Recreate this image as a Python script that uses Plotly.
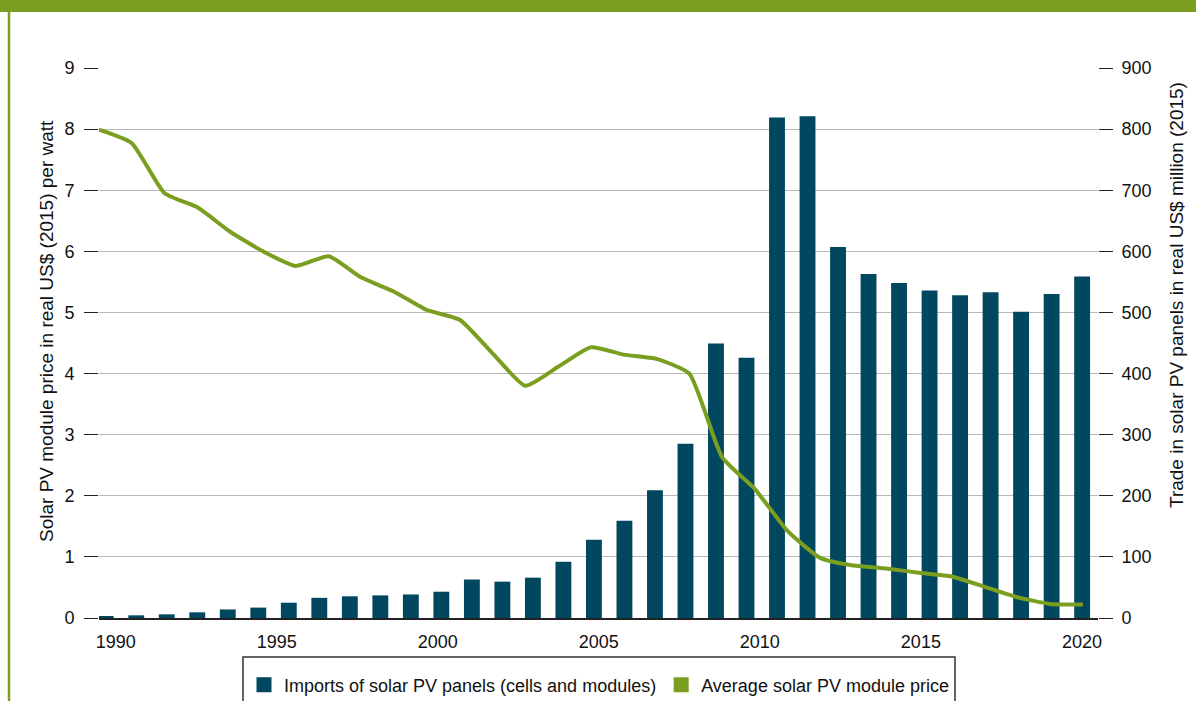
import plotly.graph_objects as go

# Average solar PV module price, real US$ (2015) per watt, 1990-2020
price_years = list(range(1990, 2021))
price_per_watt = [7.99, 7.77, 6.95, 6.72, 6.32, 6.00, 5.76, 5.92, 5.57, 5.34,
                  5.04, 4.88, 4.33, 3.80, 4.11, 4.43, 4.31, 4.24, 4.00, 2.63,
                  2.11, 1.42, 0.98, 0.86, 0.81, 0.74, 0.68, 0.51, 0.34, 0.23,
                  0.22]

# Imports of solar PV panels, real US$ million (2015): 33 bars as drawn
import_periods = list(range(33))
imports_musd = [2, 4.4, 6, 9.3, 14, 17, 25, 33, 35.5, 37,
                38.5, 43, 63, 59.5, 66, 92, 128, 159, 209, 285,
                449, 426, 819, 821, 607, 563, 548, 536, 528, 533,
                501, 530, 559]

# x-axis labels
label_years = [1990, 1995, 2000, 2005, 2010, 2015, 2020]

bar_color = '#00475f'
green = '#7a9e1f'
font_family = 'Liberation Sans, Arial, sans-serif'
tick_font = dict(family=font_family, size=18, color='#111')

fig = go.Figure()

fig.add_trace(go.Bar(
    x=import_periods, y=imports_musd,
    xaxis='x2', yaxis='y2',
    width=0.52,
    marker=dict(color=bar_color, line=dict(width=0)),
    showlegend=False,
    name='Imports of solar PV panels (cells and modules)',
))

fig.add_trace(go.Scatter(
    x=price_years, y=price_per_watt,
    xaxis='x3', yaxis='y',
    mode='lines',
    line=dict(color=green, width=4, shape='spline', smoothing=0.5),
    showlegend=False,
    name='Average solar PV module price',
))

# legend entries with square swatches, as in the reference
for name, col in [('Imports of solar PV panels (cells and modules)', bar_color),
                  ('Average solar PV module price', green)]:
    fig.add_trace(go.Scatter(
        x=[None], y=[None], mode='markers',
        marker=dict(symbol='square', size=15, color=col),
        name=name, showlegend=True,
    ))

fig.update_layout(
    width=1196, height=701,
    autosize=False,
    margin=dict(l=99, r=98, t=68, b=83, autoexpand=False),
    paper_bgcolor='white',
    plot_bgcolor='white',
    font=dict(family=font_family, size=18, color='#111'),
    barmode='overlay',
    xaxis=dict(
        range=[1989.48, 2020.5],
        tickvals=label_years,
        ticktext=[str(v) for v in label_years],
        tickfont=tick_font,
        ticks='', showgrid=False, zeroline=False,
        showline=True, linecolor='#222', linewidth=1.5,
        ticklabelstandoff=7,
    ),
    xaxis2=dict(
        overlaying='x', anchor='y2',
        range=[-0.22, 32.52],
        visible=False,
    ),
    xaxis3=dict(
        overlaying='x', anchor='y',
        range=[1990, 2020.46],
        visible=False,
    ),
    yaxis=dict(
        range=[0, 9], dtick=1,
        showgrid=True, gridcolor='#b8b8b8', gridwidth=1,
        zeroline=False, showline=False,
        ticks='outside', ticklen=14, tickcolor='#222', tickwidth=1.2,
        tickfont=tick_font,
        ticklabelstandoff=6,
    ),
    yaxis2=dict(
        overlaying='y', side='right',
        range=[0, 900], dtick=100,
        showgrid=False, zeroline=False, showline=False,
        ticks='outside', ticklen=14, tickcolor='#222', tickwidth=1.2,
        tickfont=tick_font,
        ticklabelstandoff=5,
    ),
    showlegend=True,
    legend=dict(
        orientation='h',
        x=0.5005, xanchor='center',
        y=-0.122, yanchor='middle',
        font=dict(family=font_family, size=18, color='#111'),
        bgcolor='rgba(0,0,0,0)',
        borderwidth=0,
        traceorder='normal',
        itemwidth=30,
    ),
)

# frame: green band on top, green rule down the left, legend box
fig.add_shape(type='rect', xref='paper', yref='paper',
              x0=-0.1, x1=1.1, y0=1.1018, y1=1.13,
              fillcolor=green, line=dict(width=0), layer='above')
fig.add_shape(type='line', xref='paper', yref='paper',
              x0=-0.0901, x1=-0.0901, y0=-0.2, y1=1.1018,
              line=dict(color=green, width=2.5))
fig.add_shape(type='rect', xref='paper', yref='paper',
              x0=(243 - 99) / 999, x1=(955 - 99) / 999,
              y0=-0.2, y1=(618 - 657) / 550,
              fillcolor='rgba(0,0,0,0)', line=dict(color='#333', width=1.5))

# axis titles
fig.add_annotation(text='Solar PV module price in real US$ (2015) per watt',
                   xref='paper', yref='paper', x=(46 - 99) / 999, y=(618 - 331) / 550,
                   textangle=-90, showarrow=False, xanchor='center', yanchor='middle',
                   font=dict(family=font_family, size=19, color='#111'))
fig.add_annotation(text='Trade in solar PV panels in real US$ million (2015)',
                   xref='paper', yref='paper', x=(1176 - 99) / 999, y=(618 - 295) / 550,
                   textangle=-90, showarrow=False, xanchor='center', yanchor='middle',
                   font=dict(family=font_family, size=19, color='#111'))

fig.write_html('out.html', config={'displayModeBar': False},
               post_script="document.body.style.margin='0';document.body.style.overflow='hidden';")
